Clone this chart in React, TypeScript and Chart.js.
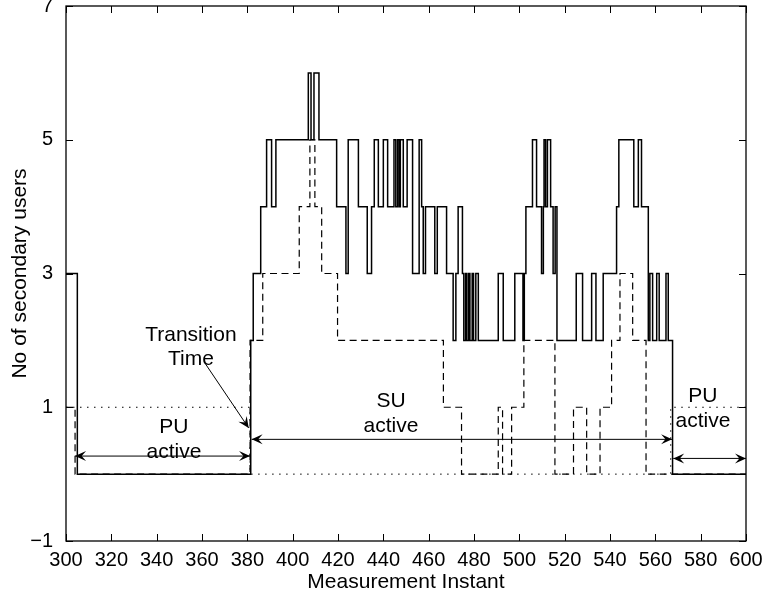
import React, { useEffect, useRef } from 'react';
import { Chart, registerables } from 'chart.js';

Chart.register(...registerables);

// ---- data (change points: x where the count takes a new value) ----
const solidX = [300, 305, 381.5, 382.6, 385.9, 388.5, 390.7, 392.6, 406.9, 408.1, 409.4, 411.6, 419.4, 423.5, 424.5, 429.0, 432.9, 434.8, 436.0, 437.8, 440.0, 441.9, 444.7, 445.5, 446.3, 447.0, 447.5, 448.8, 450.5, 452.9, 455.8, 456.9, 457.6, 458.6, 462.7, 463.8, 467.9, 470.8, 472.0, 473.0, 474.9, 475.5, 476.3, 476.8, 477.6, 478.2, 479.2, 479.8, 480.8, 481.9, 490.7, 492.9, 498.0, 501.6, 502.2, 502.9, 505.8, 507.6, 509.8, 510.6, 510.9, 511.6, 512.4, 513.8, 514.9, 515.8, 516.6, 525.1, 527.9, 531.9, 533.8, 537.0, 542.9, 543.9, 550.5, 552.5, 553.9, 556.9, 557.6, 558.8, 560.6, 561.7, 564.7, 565.7, 567.6, 600];
const solidY = [3, 0, 2, 3, 4, 5, 4, 5, 6, 5, 6, 5, 4, 3, 5, 4, 3, 4, 5, 4, 5, 4, 5, 4, 5, 4, 5, 4, 5, 3, 5, 4, 3, 4, 3, 4, 3, 2, 3, 4, 3, 2, 3, 2, 3, 2, 3, 2, 3, 2, 3, 2, 3, 2, 3, 4, 5, 4, 3, 4, 5, 4, 5, 4, 3, 4, 2, 3, 2, 3, 2, 3, 4, 5, 4, 5, 4, 2, 3, 2, 3, 2, 3, 2, 0, 0];

const dashedX = [300, 304, 381.2, 386.8, 402.9, 407.6, 409.8, 412.8, 419.8, 466.5, 474.5, 490.7, 492.6, 496.6, 502.0, 515.7, 523.9, 529.7, 535.6, 540.7, 544.4, 550.0, 555.9, 600];
const dashedY = [1, 0, 2, 3, 4, 5, 4, 3, 2, 1, 0, 1, 0, 1, 2, 0, 1, 0, 1, 2, 3, 2, 0, 0];

const dottedX = [300, 381.2, 566.8, 600];
const dottedY = [1, 0, 1, 1];

const xMin = 300;
const xMax = 600;
const xStep = 20;
const yMin = -1;
const yMax = 7;
const yStep = 2;

const xTitle = 'Measurement Instant';
const yTitle = 'No of secondary users';

// annotations (data coordinates)
const arrowSpecs = [
  { x1: 361.3, y1: 1.66, x2: 380.6, y2: 0.69, both: false },
  { x1: 304, y1: 0.27, x2: 381.2, y2: 0.27, both: true },
  { x1: 381.9, y1: 0.52, x2: 567.4, y2: 0.52, both: true },
  { x1: 567.9, y1: 0.235, x2: 600, y2: 0.235, both: true },
];
const textSpecs = [
  { text: 'Transition', x: 355.1, y: 1.995 },
  { text: 'Time', x: 355.1, y: 1.63 },
  { text: 'PU', x: 347.6, y: 0.62 },
  { text: 'active', x: 347.6, y: 0.235 },
  { text: 'SU', x: 443.4, y: 1.0 },
  { text: 'active', x: 443.4, y: 0.633 },
  { text: 'PU', x: 581.0, y: 1.08 },
  { text: 'active', x: 581.0, y: 0.71 },
];

const FONT = '"Liberation Sans", Arial, Helvetica, sans-serif';

const zip = (xs: number[], ys: number[]) =>
  xs.slice(0, Math.min(xs.length, ys.length)).map((x, i) => ({ x, y: ys[i] }));

function drawHead(ctx: CanvasRenderingContext2D, tx: number, ty: number, ang: number) {
  const L = 11;
  const W = 10;
  ctx.save();
  ctx.translate(tx, ty);
  ctx.rotate(ang);
  ctx.beginPath();
  ctx.moveTo(0, 0);
  ctx.lineTo(-L, -W / 2);
  ctx.lineTo(-L * 0.6, 0);
  ctx.lineTo(-L, W / 2);
  ctx.closePath();
  ctx.fill();
  ctx.restore();
}

const framePlugin = {
  id: 'frameAndNotes',
  afterDraw(chart: any) {
    const { ctx, chartArea: a, scales } = chart;
    const xs = scales.x;
    const ys = scales.y;
    ctx.save();
    ctx.strokeStyle = '#000';
    ctx.fillStyle = '#000';
    ctx.setLineDash([]);
    // frame
    ctx.lineWidth = 1.3;
    ctx.strokeRect(a.left, a.top, a.right - a.left, a.bottom - a.top);
    // inward ticks
    const TL = 7;
    ctx.lineWidth = 1;
    ctx.beginPath();
    for (let v = xMin; v <= xMax; v += xStep) {
      const px = Math.round(xs.getPixelForValue(v)) + 0.5;
      ctx.moveTo(px, a.bottom);
      ctx.lineTo(px, a.bottom - TL);
      ctx.moveTo(px, a.top);
      ctx.lineTo(px, a.top + TL);
    }
    for (let v = yMin; v <= yMax; v += yStep) {
      const py = Math.round(ys.getPixelForValue(v)) + 0.5;
      ctx.moveTo(a.left, py);
      ctx.lineTo(a.left + TL, py);
      ctx.moveTo(a.right, py);
      ctx.lineTo(a.right - TL, py);
    }
    ctx.stroke();
    // arrows
    ctx.lineWidth = 1;
    for (const s of arrowSpecs) {
      const p1x = xs.getPixelForValue(s.x1);
      const p1y = ys.getPixelForValue(s.y1);
      const p2x = xs.getPixelForValue(s.x2);
      const p2y = ys.getPixelForValue(s.y2);
      ctx.beginPath();
      ctx.moveTo(p1x, p1y);
      ctx.lineTo(p2x, p2y);
      ctx.stroke();
      const ang = Math.atan2(p2y - p1y, p2x - p1x);
      drawHead(ctx, p2x, p2y, ang);
      if (s.both) drawHead(ctx, p1x, p1y, ang + Math.PI);
    }
    // texts
    ctx.font = `21px ${FONT}`;
    ctx.textAlign = 'center';
    ctx.textBaseline = 'alphabetic';
    for (const t of textSpecs) {
      ctx.fillText(t.text, xs.getPixelForValue(t.x), ys.getPixelForValue(t.y));
    }
    ctx.restore();
  },
};

export default function App() {
  const ref = useRef<HTMLCanvasElement>(null);
  useEffect(() => {
    const canvas = ref.current;
    if (!canvas) return;
    const common = { pointRadius: 0, borderColor: '#000', fill: false, stepped: 'before' as const, borderCapStyle: 'butt' as const };
    const chart = new Chart(canvas, {
      type: 'line',
      data: {
        datasets: [
          { ...common, data: zip(dottedX, dottedY), borderWidth: 1, borderDash: [1.5, 5.5] },
          { ...common, data: zip(dashedX, dashedY), borderWidth: 1.2, borderDash: [7, 4.5] },
          { ...common, data: zip(solidX, solidY), borderWidth: 1.5 },
        ],
      },
      options: {
        responsive: false,
        animation: false,
        devicePixelRatio: 1,
        events: [],
        layout: { padding: { left: 0, right: 18, top: 6, bottom: 0 } },
        plugins: { legend: { display: false }, tooltip: { enabled: false }, title: { display: false } },
        scales: {
          x: {
            type: 'linear',
            min: xMin,
            max: xMax,
            ticks: { stepSize: xStep, padding: 7, color: '#000', font: { family: FONT, size: 20 }, maxRotation: 0, autoSkip: false },
            grid: { display: false, drawTicks: false, tickLength: 0 },
            border: { display: false },
            title: { display: true, text: xTitle, color: '#000', font: { family: FONT, size: 21 }, padding: { top: 0, bottom: 3 } },
            afterFit: (s: any) => { s.height = 57; s.paddingLeft = 0; s.paddingRight = 0; },
          },
          y: {
            type: 'linear',
            min: yMin,
            max: yMax,
            ticks: {
              stepSize: yStep,
              padding: 13,
              color: '#000',
              font: { family: FONT, size: 20 },
              callback: (v: any) => String(v).replace('-', '\u2212'),
            },
            grid: { display: false, drawTicks: false, tickLength: 0 },
            border: { display: false },
            title: { display: true, text: yTitle, color: '#000', font: { family: FONT, size: 21 }, padding: { top: 7.5, bottom: 0 } },
            afterFit: (s: any) => { s.width = 66; s.paddingTop = 0; s.paddingBottom = 0; },
          },
        },
      },
      plugins: [framePlugin],
    } as any);
    return () => chart.destroy();
  }, []);
  return (
    <div style={{ position: 'absolute', left: 0, top: 0, width: 764, height: 598, background: '#fff' }}>
      <canvas ref={ref} width={764} height={598} style={{ display: 'block', width: 764, height: 598 }} />
    </div>
  );
}
